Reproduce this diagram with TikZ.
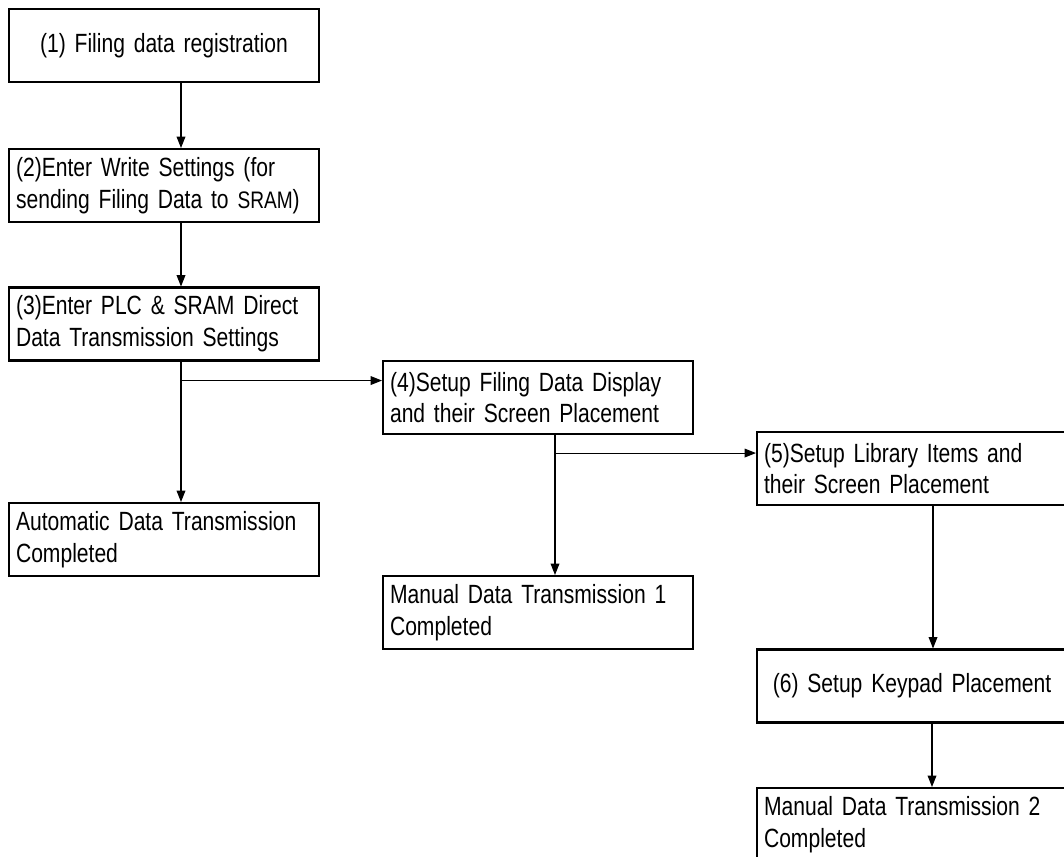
\documentclass[tikz,border=0pt]{standalone}
\usepackage{fontspec}
\setmainfont[FakeStretch=0.80]{Liberation Sans}
\usetikzlibrary{arrows.meta, positioning, calc}
\newcommand\boxfont{\fontsize{15pt}{18.1pt}\selectfont\spaceskip=1.8pt plus 0.5pt minus 0.3pt\relax}
\newcommand\smallcaps[1]{{\fontsize{13.6pt}{18.1pt}\selectfont #1}}

\begin{document}
\begin{tikzpicture}[x=0.02cm, y=-0.02cm, >={Triangle[length=6.5pt,width=5pt]}, line width=0.6pt,
  font=\boxfont,
  stepbox/.style={draw, line width=1.2pt, minimum width=6.2cm, minimum height=1.46cm,
    inner xsep=0.14cm, text width=5.92cm, align=left},
  midbox/.style={stepbox, align=center}]
  \useasboundingbox (0,0) rectangle (1064,856);
  % --- left column ---
  \node[midbox]   (s1)   at (164,45.5)  {(1) Filing data registration};
  \node[stepbox]  (s2)   at (164,185.5) {(2)Enter Write Settings (for\\sending Filing Data to \smallcaps{SRAM})};
  \node[stepbox]  (s3)   at (164,324)   {(3)Enter PLC \& SRAM Direct\\Data Transmission Settings};
  \node[stepbox]  (auto) at (164,539.5) {Automatic Data Transmission\\Completed};
  % --- middle column ---
  \node[stepbox]  (s4)   at (538,397.5) {(4)Setup Filing Data Display\\and their Screen Placement};
  \node[stepbox]  (man1) at (538,612.5) {Manual Data Transmission 1\\Completed};
  % --- right column ---
  \node[stepbox]  (s5)   at (912,468.5) {(5)Setup Library Items and\\their Screen Placement};
  \node[midbox]   (s6)   at (912,686)   {(6) Setup Keypad Placement};
  \node[stepbox]  (man2) at (912,824.5) {Manual Data Transmission 2\\Completed};
  % --- arrows ---
  \draw[->] ($(s1.south)+(17,0)$) -- ($(s2.north)+(17,0)$);
  \draw[->] ($(s2.south)+(17,0)$) -- ($(s3.north)+(17,0)$);
  \coordinate (j3) at ($(s3.south)+(17,19)$);
  \draw[->] ($(s3.south)+(17,0)$) -- (auto.north -| j3);
  \draw[->] (j3) -- (j3 -| s4.west);
  \coordinate (j4) at ($(s4.south)+(17,18)$);
  \draw[->] ($(s4.south)+(17,0)$) -- (man1.north -| j4);
  \draw[->] (j4) -- (j4 -| s5.west);
  \draw[->] ($(s5.south)+(21,0)$) -- ($(s6.north)+(21,0)$);
  \draw[->] ($(s6.south)+(20,0)$) -- ($(man2.north)+(20,0)$);
\end{tikzpicture}
\end{document}
